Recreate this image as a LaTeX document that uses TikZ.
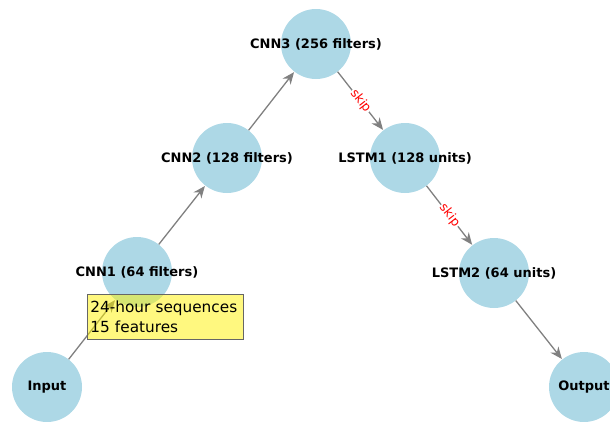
\documentclass[tikz,border=0pt]{standalone}
\usepackage{fontspec}
\setmainfont{DejaVu Sans}
\usetikzlibrary{arrows.meta}
\definecolor{nodeblue}{RGB}{173,216,230}
\definecolor{edgegray}{RGB}{128,128,128}
\begin{document}
\begin{tikzpicture}[x=1pt,y=-1pt,
  layer/.style={circle,fill=nodeblue,minimum size=70pt,inner sep=0pt},
  lbl/.style={font=\bfseries\fontsize{13}{15}\selectfont,text=black},
  edge/.style={draw=edgegray,line width=1.3pt,-{Stealth[length=12pt,width=10pt]},shorten >=0.5pt},
  skiplbl/.style={fill=white,inner sep=1pt,text=red,font=\fontsize{12.5}{14}\selectfont,rotate=-52}]
\useasboundingbox (0,0) rectangle (610,421);
\node[layer] (in) at (47,387) {};
\node[layer] (c1) at (137,272) {};
\node[layer] (c2) at (227,158) {};
\node[layer] (c3) at (316,44) {};
\node[layer] (l1) at (405,158) {};
\node[layer] (l2) at (494,273) {};
\node[layer] (out) at (584,387) {};
\draw[edge] (in) -- (c1);
\draw[edge] (c1) -- (c2);
\draw[edge] (c2) -- (c3);
\draw[edge] (c3) -- node[skiplbl] (s1) {skip} (l1);
\draw[edge] (l1) -- node[skiplbl] (s2) {skip} (l2);
\draw[edge] (l2) -- (out);
\node[lbl] at (in) {Input};
\node[lbl] at (c1) {CNN1 (64 filters)};
\node[lbl] at (c2) {CNN2 (128 filters)};
\node[lbl] at (c3) {CNN3 (256 filters)};
\node[lbl] at (l1) {LSTM1 (128 units)};
\node[lbl] at (l2) {LSTM2 (64 units)};
\node[lbl] at (out) {Output};
\node[draw=black!60,line width=0.8pt,fill=yellow,fill opacity=0.5,text opacity=1,
  align=left,anchor=north west,minimum width=156pt,minimum height=45pt,inner sep=3pt,
  font=\fontsize{15.3}{19.5}\selectfont,text width=150pt] (note) at (87,294) {24-hour sequences\\15 features};
\end{tikzpicture}
\end{document}
